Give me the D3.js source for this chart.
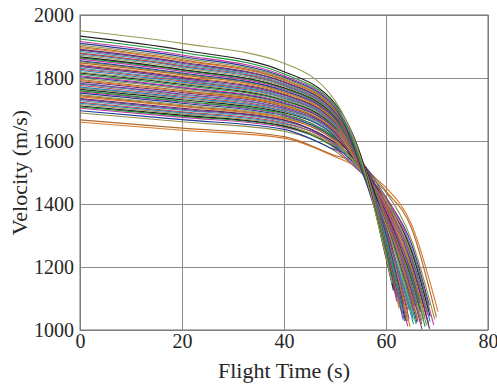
<!DOCTYPE html>
<html>
<head>
<meta charset="utf-8">
<script src="https://cdn.jsdelivr.net/npm/d3@7"></script>
<style>
  body { margin: 0; background: #fff; }
  svg { display: block; }
  .tick text { font-family: "Liberation Serif", "Times New Roman", serif; font-size: 20px; fill: #262626; }
  .label { font-family: "Liberation Serif", "Times New Roman", serif; font-size: 22px; fill: #262626; }
</style>
</head>
<body>
<div id="chart"></div>
<script>
const sampleTimes = [0, 20, 40, 50, 55, 60, 65];

// velocity (m/s) of each run at the sample times
const v0 = [1660, 1667, 1689, 1696, 1704, 1708, 1711, 1716, 1720, 1723, 1728, 1732, 1735, 1740, 1744,
  1747, 1752, 1756, 1759, 1764, 1768, 1771, 1776, 1780, 1783, 1788, 1792, 1795, 1800, 1804,
  1807, 1812, 1816, 1819, 1824, 1828, 1831, 1836, 1840, 1843, 1848, 1852, 1855, 1860, 1864,
  1867, 1872, 1876, 1879, 1884, 1888, 1891, 1896, 1900, 1905, 1910, 1916, 1924, 1933, 1950];
const v20 = [1634, 1641, 1661, 1668, 1675, 1679, 1682, 1686, 1690, 1693, 1698, 1701, 1704, 1709, 1712,
  1715, 1720, 1724, 1726, 1731, 1735, 1738, 1742, 1746, 1749, 1754, 1757, 1760, 1765, 1769,
  1771, 1776, 1780, 1783, 1787, 1791, 1794, 1798, 1802, 1805, 1810, 1813, 1816, 1821, 1825,
  1827, 1832, 1836, 1839, 1843, 1847, 1850, 1855, 1858, 1863, 1868, 1873, 1881, 1889, 1910];
const v40 = [1609, 1614, 1631, 1637, 1643, 1646, 1648, 1652, 1655, 1658, 1662, 1665, 1667, 1671, 1674,
  1676, 1680, 1683, 1686, 1690, 1693, 1695, 1699, 1702, 1704, 1708, 1711, 1714, 1717, 1720,
  1723, 1727, 1730, 1732, 1736, 1739, 1741, 1745, 1748, 1751, 1755, 1758, 1760, 1764, 1767,
  1769, 1773, 1776, 1779, 1782, 1786, 1788, 1792, 1795, 1799, 1803, 1807, 1813, 1820, 1847];
const v50 = [1550, 1554, 1568, 1572, 1577, 1580, 1582, 1585, 1587, 1589, 1592, 1594, 1596, 1599, 1602,
  1604, 1607, 1609, 1611, 1614, 1617, 1619, 1622, 1624, 1626, 1629, 1632, 1633, 1637, 1639,
  1641, 1644, 1646, 1648, 1651, 1654, 1656, 1659, 1661, 1663, 1666, 1669, 1671, 1674, 1676,
  1678, 1681, 1684, 1685, 1688, 1691, 1693, 1696, 1698, 1701, 1705, 1708, 1713, 1719, 1728];
const v55 = [1512, 1527, 1503, 1535, 1501, 1525, 1511, 1532, 1503, 1527, 1512, 1521, 1541, 1508, 1528,
  1504, 1533, 1521, 1537, 1512, 1522, 1537, 1516, 1541, 1513, 1530, 1521, 1542, 1507, 1539,
  1518, 1531, 1549, 1516, 1536, 1512, 1541, 1529, 1545, 1520, 1530, 1547, 1521, 1551, 1521,
  1538, 1531, 1547, 1517, 1547, 1526, 1541, 1554, 1526, 1544, 1520, 1551, 1535, 1557, 1548];
const v60 = [1452, 1441, 1437, 1420, 1422, 1405, 1415, 1414, 1399, 1404, 1390, 1400, 1390, 1397, 1378,
  1385, 1374, 1383, 1367, 1370, 1366, 1357, 1367, 1353, 1359, 1341, 1350, 1351, 1335, 1339,
  1326, 1336, 1325, 1334, 1314, 1321, 1311, 1319, 1302, 1307, 1302, 1292, 1304, 1289, 1294,
  1277, 1286, 1286, 1272, 1275, 1262, 1273, 1261, 1269, 1249, 1255, 1243, 1249, 1228, 1232];
const v65 = [1335, 1323, 1286, 1273, 1260, 1253, 1248, 1239, 1233, 1227, 1219, 1212, 1207, 1198, 1192,
  1186, 1178, 1171, 1166, 1157, 1150, 1145, 1137, 1130, 1125, 1116, 1109, 1104, 1096, 1089,
  1084, 1075, null, 1063, 1055, null, 1043, null, null, null, null, null, null, null, null,
  null, null, null, null, null, null, null, null, null, null, null, null, null, null, null];

// where each run stops (impact time and velocity)
const tEnd = [70.2, 69.9, 69.55, 68.5, 69.36, 68.43, 68.64, 67.66, 68.64, 68.14, 67.58, 68.34, 68.54, 67.28, 67.65,
  67.96, 66.59, 67.36, 67.66, 66.7, 67.06, 66.06, 67.0, 66.48, 67.08, 65.71, 66.28, 66.28, 65.22, 66.08,
  65.38, 65.92, 64.6, 65.3, 65.34, 64.3, 65.4, 64.54, 63.7, 64.72, 64.04, 64.22, 63.32, 64.26, 63.32,
  63.82, 63.26, 63.64, 62.64, 63.17, 63.34, 62.34, 62.68, 61.84, 62.58, 62.02, 62.12, 61.36, 61.46, 61.2];
const vEnd = [1058, 1040, 1034, 1078, 1016, 1061, 1043, 1089, 1027, 1049, 1072, 1021, 1004, 1067, 1039,
  1015, 1086, 1034, 1011, 1058, 1029, 1083, 1019, 1042, 1001, 1074, 1032, 1027, 1083, 1024,
  1061, 1019, 1065, 1045, 1034, 1063, 1018, 1034, 1079, 1011, 1045, 1028, 1081, 1012, 1068,
  1030, 1060, 1028, 1093, 1051, 1034, 1101, 1071, 1127, 1069, 1104, 1091, 1140, 1126, 1148];

const xTicks = [0, 20, 40, 60, 80];
const yTicks = [1000, 1200, 1400, 1600, 1800, 2000];

const lineColors = ["#d97a2b", "#b0682c", "#8f8f45", "#1f3b9b", "#c2389c", "#1a9a3a", "#222222",
  "#9c9a55", "#2a7fc0", "#b8454f", "#3a9a9a", "#7a3fa0", "#5a2a6a"];

const width = 497, height = 390;
const margin = { top: 15, right: 9, bottom: 60, left: 80 };
const plotW = width - margin.left - margin.right;
const plotH = height - margin.top - margin.bottom;

const svg = d3.select("#chart").append("svg")
  .attr("width", width)
  .attr("height", height);

const x = d3.scaleLinear().domain([0, 80]).range([margin.left, margin.left + plotW]);
const y = d3.scaleLinear().domain([1000, 2000]).range([margin.top + plotH, margin.top]);

// grid
svg.append("g")
  .attr("transform", `translate(0,${margin.top + plotH})`)
  .call(d3.axisBottom(x).tickValues(xTicks).tickSize(-plotH).tickFormat(""))
  .call(g => g.select(".domain").remove())
  .call(g => g.selectAll("line").attr("stroke", "#8c8c8c"));

svg.append("g")
  .attr("transform", `translate(${margin.left},0)`)
  .call(d3.axisLeft(y).tickValues(yTicks).tickSize(-plotW).tickFormat(""))
  .call(g => g.select(".domain").remove())
  .call(g => g.selectAll("line").attr("stroke", "#8c8c8c"));

// runs
const runs = v0.map((_, i) => {
  const cols = [v0, v20, v40, v50, v55, v60, v65];
  const pts = sampleTimes
    .map((t, k) => [t, cols[k][i]])
    .filter(p => p[1] != null && p[0] < tEnd[i]);
  pts.push([tEnd[i], vEnd[i]]);
  return pts;
});

const line = d3.line()
  .x(d => x(d[0]))
  .y(d => y(d[1]))
  .curve(d3.curveMonotoneX);

svg.append("g")
  .selectAll("path")
  .data(runs)
  .enter()
  .append("path")
  .attr("fill", "none")
  .attr("stroke", (d, i) => lineColors[i % lineColors.length])
  .attr("stroke-width", 1.1)
  .attr("d", line);

// box
svg.append("rect")
  .attr("x", margin.left)
  .attr("y", margin.top)
  .attr("width", plotW)
  .attr("height", plotH)
  .attr("fill", "none")
  .attr("stroke", "#707070")
  .attr("stroke-width", 1);

// tick labels
svg.append("g")
  .attr("transform", `translate(0,${margin.top + plotH})`)
  .call(d3.axisBottom(x).tickValues(xTicks).tickSize(0).tickPadding(4).tickFormat(d3.format("d")))
  .call(g => g.select(".domain").remove());

svg.append("g")
  .attr("transform", `translate(${margin.left},0)`)
  .call(d3.axisLeft(y).tickValues(yTicks).tickSize(0).tickPadding(6).tickFormat(d3.format("d")))
  .call(g => g.select(".domain").remove());

// axis titles
svg.append("text")
  .attr("class", "label")
  .attr("x", margin.left + plotW / 2)
  .attr("y", 378)
  .attr("text-anchor", "middle")
  .text("Flight Time (s)");

svg.append("text")
  .attr("class", "label")
  .attr("transform", `translate(27,${margin.top + plotH / 2}) rotate(-90)`)
  .attr("text-anchor", "middle")
  .text("Velocity (m/s)");
</script>
</body>
</html>
